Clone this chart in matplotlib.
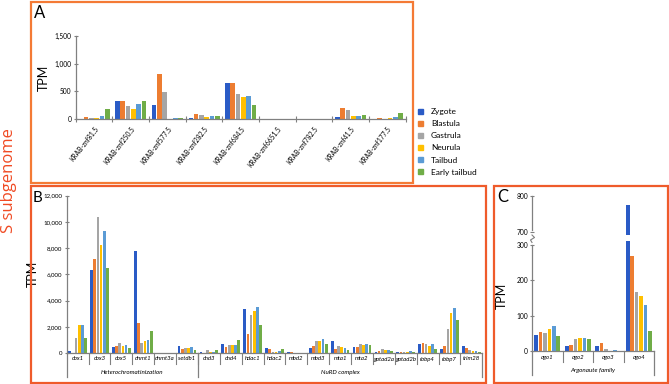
import matplotlib
matplotlib.use('Agg')
import matplotlib.pyplot as plt
from matplotlib.patches import Rectangle, Patch
from matplotlib.lines import Line2D
import matplotlib.ticker as mticker
import numpy as np

plt.rcParams['font.family'] = ['Lato', 'DejaVu Sans']

stages = ["Zygote", "Blastula", "Gastrula", "Neurula", "Tailbud", "Early tailbud"]
colors = ["#2A5BC6", "#ED7D31", "#A5A5A5", "#FFC000", "#5B9BD5", "#70AD47"]

# Panel A: KRAB zinc finger genes
a_genes = ["KRAB-znf81.5", "KRAB-znf250.5", "KRAB-znf577.5", "KRAB-znf282.5", "KRAB-znf684.5",
           "KRAB-znf6651.5", "KRAB-znf782.5", "KRAB-znf41.5", "KRAB-znf177.5"]
a_zygote = [5, 325, 265, 30, 650, 3, 3, 35, 10]
a_blastula = [40, 325, 820, 100, 650, 3, 3, 210, 25]
a_gastrula = [15, 235, 495, 85, 450, 3, 3, 170, 10]
a_neurula = [25, 185, 5, 45, 400, 3, 3, 60, 15]
a_tailbud = [60, 275, 20, 65, 420, 5, 8, 60, 45]
a_early_tailbud = [185, 320, 25, 60, 260, 8, 12, 75, 120]

# Panel B: heterochromatinization and NuRD complex genes
b_genes = ["cbx1", "cbx3", "cbx5", "dnmt1", "dnmt3a", "setdb1", "chd3", "chd4", "hdac1", "hdac2",
           "mbd2", "mbd3", "mta1", "mta2", "gatad2a", "gatad2b", "rbbp4", "rbbp7", "trim28"]
b_groups = ["Heterochromatinization", "NuRD complex"]
b_group_sizes = [6, 13]
b_zygote = [150, 6300, 450, 7750, 30, 500, 50, 720, 3330, 350, 100, 400, 900, 450, 80, 50, 700, 330, 550]
b_blastula = [30, 7200, 550, 2300, 30, 300, 30, 460, 1450, 330, 80, 550, 330, 430, 150, 60, 750, 550, 400]
b_gastrula = [1150, 10400, 750, 800, 30, 380, 230, 610, 2870, 60, 30, 950, 550, 700, 300, 60, 700, 1850, 230]
b_neurula = [2100, 8250, 550, 900, 30, 400, 100, 610, 3200, 60, 20, 950, 450, 600, 200, 60, 550, 3050, 150]
b_tailbud = [2100, 9300, 600, 1000, 30, 430, 80, 620, 3530, 120, 20, 1100, 400, 700, 250, 120, 680, 3450, 150]
b_early_tailbud = [1150, 6450, 400, 1650, 30, 250, 230, 990, 2160, 300, 20, 700, 200, 600, 150, 60, 330, 2550, 80]

# Panel C: Argonaute family
c_genes = ["ago1", "ago2", "ago3", "ago4"]
c_group = "Argonaute family"
c_zygote = [45, 15, 13, 776]
c_blastula = [55, 17, 22, 270]
c_gastrula = [50, 35, 6, 167]
c_neurula = [63, 37, 1, 157]
c_tailbud = [70, 36, 2, 130]
c_early_tailbud = [43, 33, 1, 57]

W, H = 669, 384
fig = plt.figure(figsize=(W / 100, H / 100), dpi=100)

def fr(x0, y0, x1, y1):
    """pixel box (top-left origin) -> figure fraction rect"""
    return [x0 / W, 1 - y1 / H, (x1 - x0) / W, (y1 - y0) / H]

STEP, BW = 0.145, 0.122
AX_COL = "#808080"

def draw_bars(ax, series, n):
    x = np.arange(n)
    hs = []
    for i, (vals, c) in enumerate(zip(series, colors)):
        h = ax.bar(x + (i - 2.5) * STEP, vals, width=BW, color=c, linewidth=0)
        hs.append(h)
    ax.set_xlim(-0.5, n - 0.5)
    return hs

def style(ax, lsize=4.8):
    for s in ["top", "right"]:
        ax.spines[s].set_visible(False)
    for s in ["left", "bottom"]:
        ax.spines[s].set_color(AX_COL)
        ax.spines[s].set_linewidth(0.9)
    ax.tick_params(axis='y', labelsize=lsize, length=3, direction='inout', color=AX_COL, width=0.8, pad=1.5)
    ax.yaxis.set_major_formatter(mticker.FuncFormatter(lambda v, p: f"{int(v):,}"))

# ---------- Panel A ----------
axA = fig.add_axes(fr(75.7, 35.7, 405.7, 119.3))
draw_bars(axA, [a_zygote, a_blastula, a_gastrula, a_neurula, a_tailbud, a_early_tailbud], len(a_genes))
style(axA)
axA.set_ylim(0, 1500)
axA.set_yticks([0, 500, 1000, 1500])
axA.set_xticks(np.arange(len(a_genes)))
axA.set_xticklabels(a_genes, rotation=52, ha='right', rotation_mode='anchor', fontsize=4.8)
axA.set_xticks(np.arange(len(a_genes) + 1) - 0.5, minor=True)
axA.tick_params(axis='x', which='major', length=0, pad=4)
axA.tick_params(axis='x', which='minor', length=4, direction='inout', color=AX_COL, width=0.8)
axA.set_ylabel("TPM", fontsize=9, labelpad=3)

fig.legend([Patch(color=c) for c in colors], stages, loc='upper left',
           bbox_to_anchor=(418 / W, 1 - 108 / H), frameon=False, fontsize=6,
           handlelength=0.55, handleheight=0.55, handletextpad=1.0,
           labelspacing=0.62, borderpad=0, borderaxespad=0)

# ---------- Panel B ----------
axB = fig.add_axes(fr(66.7, 195.7, 482.3, 353))
draw_bars(axB, [b_zygote, b_blastula, b_gastrula, b_neurula, b_tailbud, b_early_tailbud], len(b_genes))
style(axB, lsize=4.4)
axB.set_ylim(0, 12000)
axB.set_yticks(np.arange(0, 12001, 2000))
axB.set_xticks([])
axB.set_ylabel("TPM", fontsize=9, labelpad=3)

def category_axis(ax, genes, groups, sizes, ax_h_px):
    tr = ax.get_xaxis_transform()
    f = lambda px: -px / ax_h_px
    n = len(genes)
    for i, g in enumerate(genes):
        ax.text(i, f(6), g, transform=tr, ha='center', va='center', fontsize=4.3,
                style='italic', clip_on=False)
    for b in np.arange(1, n):
        ax.add_line(Line2D([b - 0.5, b - 0.5], [0, f(11)], transform=tr, color=AX_COL,
                           lw=0.8, clip_on=False))
    start = 0
    edges = [-0.5]
    for gname, sz in zip(groups, sizes):
        ax.text(start - 0.5 + sz / 2, f(19.7), gname, transform=tr, ha='center', va='center',
                fontsize=4.5, style='italic', clip_on=False)
        start += sz
        edges.append(start - 0.5)
    for e in edges:
        ax.add_line(Line2D([e, e], [0, f(24)], transform=tr, color=AX_COL, lw=0.9, clip_on=False))

category_axis(axB, b_genes, b_groups, b_group_sizes, 353 - 195.7)

# ---------- Panel C (broken axis) ----------
c_series = [c_zygote, c_blastula, c_gastrula, c_neurula, c_tailbud, c_early_tailbud]
low_top, up_bot = 310, 690
px_per = 35.33 / 100
y0 = 351
axC = fig.add_axes(fr(532, y0 - low_top * px_per, 654, y0))
axCu = fig.add_axes(fr(532, 196.3, 654, 196.3 + (800 - up_bot) * px_per))
draw_bars(axC, c_series, len(c_genes))
draw_bars(axCu, c_series, len(c_genes))
style(axC)
style(axCu)
axC.set_ylim(0, low_top)
axC.set_yticks([0, 100, 200, 300])
axC.set_xticks([])
axCu.set_ylim(up_bot, 800)
axCu.set_yticks([700, 800])
axCu.set_xticks([])
axCu.spines['bottom'].set_visible(False)
axC.spines['left'].set_bounds(0, 300)
axCu.spines['left'].set_bounds(705, 800)
axC.set_ylabel("TPM", fontsize=9, labelpad=6)
category_axis(axC, c_genes, [c_group], [4], low_top * px_per)
# break mark
bx = 532 / W
fig.add_artist(Line2D([bx, bx + 2.5 / W, bx - 1.5 / W, bx],
                      [1 - 235 / H, 1 - 237.5 / H, 1 - 240 / H, 1 - 242.5 / H],
                      transform=fig.transFigure, color=AX_COL, lw=0.8))

# ---------- Panel frames and letters ----------
for (x0, y0_, x1, y1), col in [((30.5, 2, 413, 182.5), "#F47A35"),
                               ((30.5, 186, 486, 382.5), "#EF5B2B"),
                               ((493.5, 186, 668, 382.5), "#EF5B2B")]:
    fig.add_artist(Rectangle((x0 / W, 1 - y1 / H), (x1 - x0) / W, (y1 - y0_) / H,
                             transform=fig.transFigure, fill=False, edgecolor=col, lw=1.6))

fig.text(34 / W, 1 - 13 / H, "A", fontsize=12, va='center', ha='left')
fig.text(32.5 / W, 1 - 198 / H, "B", fontsize=11, va='center', ha='left')
fig.text(497 / W, 1 - 197 / H, "C", fontsize=12, va='center', ha='left')
fig.text(9 / W, 1 - 181 / H, "S subgenome", fontsize=12, rotation=90, color="#F04A23",
         va='center', ha='center', family=['Open Sans', 'DejaVu Sans'])

fig.savefig("out.png", dpi=100)
